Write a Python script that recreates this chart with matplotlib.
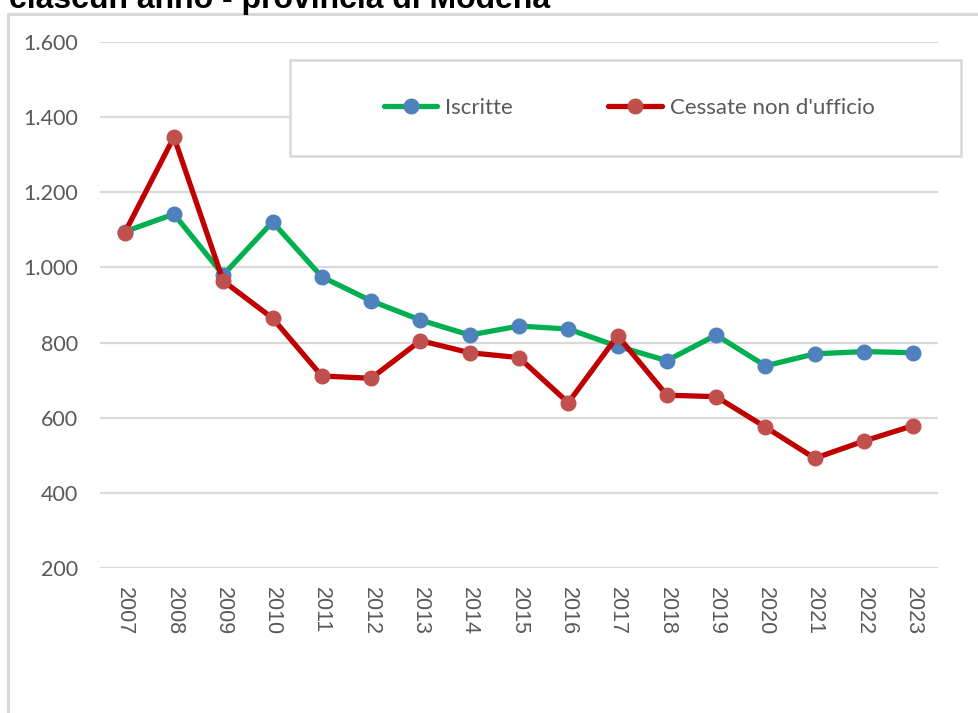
import matplotlib
matplotlib.use("Agg")
import matplotlib.pyplot as plt
from matplotlib.patches import Rectangle
from matplotlib.lines import Line2D

years = ["2007", "2008", "2009", "2010", "2011", "2012", "2013", "2014", "2015",
         "2016", "2017", "2018", "2019", "2020", "2021", "2022", "2023"]
iscritte = [1095, 1142, 980, 1121, 975, 911, 860, 820, 844, 836, 790, 752, 820,
            738, 770, 776, 773]
cessate = [1092, 1347, 964, 865, 711, 705, 805, 773, 760, 640, 818, 660, 656,
           575, 492, 538, 579]
yticks = [200, 400, 600, 800, 1000, 1200, 1400, 1600]
ytick_labels = ["200", "400", "600", "800", "1.000", "1.200", "1.400", "1.600"]
title = "ciascun anno - provincia di Modena"
series_names = ["Iscritte", "Cessate non d'ufficio"]

W, H = 979, 713
fig = plt.figure(figsize=(W / 100, H / 100), dpi=100)

def fx(px):
    return px / W

def fy(py):
    return 1 - py / H

ax = fig.add_axes([fx(100), fy(568), fx(938) - fx(100), fy(42) - fy(568)])
x = list(range(len(years)))

grid_c = "#d9d9d9"
for v in yticks:
    ax.axhline(v, color=grid_c, lw=1.6, zorder=1)

ax.plot(x, iscritte, color="#00B050", lw=3.8, marker="o", markersize=10.5,
        markerfacecolor="#4F81BD", markeredgecolor="#4F81BD", zorder=3,
        solid_capstyle="round", solid_joinstyle="round")
ax.plot(x, cessate, color="#C00000", lw=3.8, marker="o", markersize=10.5,
        markerfacecolor="#C0504D", markeredgecolor="#C0504D", zorder=4,
        solid_capstyle="round", solid_joinstyle="round")

ax.set_xlim(-0.5, len(years) - 0.5)
ax.set_ylim(200, 1600)
ax.set_yticks(yticks)
ax.set_yticklabels(ytick_labels, fontfamily="Lato", fontsize=15.5, color="#595959")
ax.set_xticks(x)
ax.set_xticklabels(years, rotation=270, fontfamily="Liberation Sans",
                   fontsize=15.5, color="#595959")
ax.tick_params(axis="y", length=0, pad=16)
ax.tick_params(axis="x", length=0, pad=14)
for s in ax.spines.values():
    s.set_visible(False)
ax.patch.set_alpha(0)

# chart border (left and top)
fig.add_artist(Line2D([fx(8), fx(8)], [fy(14), 0], color=grid_c, lw=2.2))
fig.add_artist(Line2D([fx(8), 1], [fy(14), fy(14)], color=grid_c, lw=2.2))

# legend frame
fig.add_artist(Rectangle((fx(290), fy(156)), fx(961) - fx(290), fy(60) - fy(156),
                         facecolor="white", edgecolor=grid_c, lw=1.8, zorder=5))

handles = [
    Line2D([], [], color="#00B050", lw=3.8, marker="o", markersize=10.5,
           markerfacecolor="#4F81BD", markeredgecolor="#4F81BD",
           solid_capstyle="round"),
    Line2D([], [], color="#C00000", lw=3.8, marker="o", markersize=10.5,
           markerfacecolor="#C0504D", markeredgecolor="#C0504D",
           solid_capstyle="round"),
]
leg = fig.legend(handles, series_names, loc="center left",
                 bbox_to_anchor=(fx(384), fy(108)), ncol=2, frameon=False,
                 prop={"family": "Lato", "size": 16}, handlelength=2.4,
                 handletextpad=0.35, columnspacing=4.3, borderpad=0,
                 borderaxespad=0)
for t in leg.get_texts():
    t.set_color("#595959")
leg.set_zorder(6)

fig.text(fx(9), fy(8), title, fontfamily="Liberation Sans", fontweight="bold",
         fontsize=23, color="black", va="baseline", ha="left")

fig.savefig("out.png", dpi=100)
